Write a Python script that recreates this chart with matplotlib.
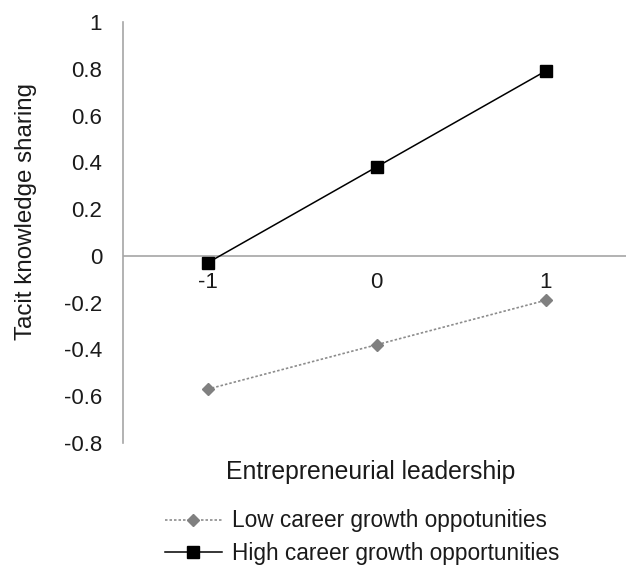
import matplotlib
matplotlib.use("Agg")
import matplotlib.pyplot as plt

categories = ["-1", "0", "1"]
x_vals = [-1, 0, 1]
low_growth = [-0.57, -0.38, -0.19]
high_growth = [-0.03, 0.38, 0.79]
y_ticks = [1, 0.8, 0.6, 0.4, 0.2, 0, -0.2, -0.4, -0.6, -0.8]
y_tick_labels = ["1", "0.8", "0.6", "0.4", "0.2", "0", "-0.2", "-0.4", "-0.6", "-0.8"]

plt.rcParams['font.family'] = ['Liberation Sans', 'DejaVu Sans']

W, H = 626, 569
fig = plt.figure(figsize=(W/100, H/100), dpi=100)
ax = fig.add_axes([123/W, 1-443/H, 507/W, (443-22)/H])

ax.plot(x_vals, low_growth, color="#8c8c8c", linestyle=(0, (1.5, 1.2)), linewidth=1.2,
        marker="D", markersize=6.5, markerfacecolor="#808080", markeredgecolor="#808080",
        label="Low career growth oppotunities")
ax.plot(x_vals, high_growth, color="black", linestyle="-", linewidth=1.1,
        marker="s", markersize=8, markerfacecolor="black", markeredgecolor="black",
        label="High career growth opportunities")

ax.set_xlim(-1.5, 1.5)
ax.set_ylim(-0.8, 1.0)
ax.set_yticks(y_ticks)
ax.set_yticklabels(y_tick_labels, fontsize=16, color="#1a1a1a")
ax.tick_params(axis="y", length=0, pad=15)
ax.set_xticks([])

for s in ["top", "right", "bottom"]:
    ax.spines[s].set_visible(False)
ax.spines["left"].set_color("#a6a6a6")
ax.spines["left"].set_linewidth(1.2)
ax.axhline(0, color="#a6a6a6", linewidth=1.2, zorder=0)

for xv, lab in zip(x_vals, categories):
    ax.text(xv, -0.115, lab, ha="center", va="center", fontsize=16, color="#1a1a1a")

fig.text(26/W, 1-212/H, "Tacit knowledge sharing", rotation=90, ha="center", va="center",
         fontsize=17.4, color="#1a1a1a")
fig.text(371/W, 1-472/H, "Entrepreneurial leadership", ha="center", va="center",
         fontsize=17.8, color="#1a1a1a")

handles, labels = ax.get_legend_handles_labels()
leg = fig.legend(handles, labels, loc="center left", bbox_to_anchor=(165/W, 1-537/H),
                 frameon=False, fontsize=16.3, handlelength=2.5, handletextpad=0.45,
                 labelspacing=0.4, borderaxespad=0, borderpad=0)
for t in leg.get_texts():
    t.set_color("#1a1a1a")

fig.savefig("out.png", dpi=100)
